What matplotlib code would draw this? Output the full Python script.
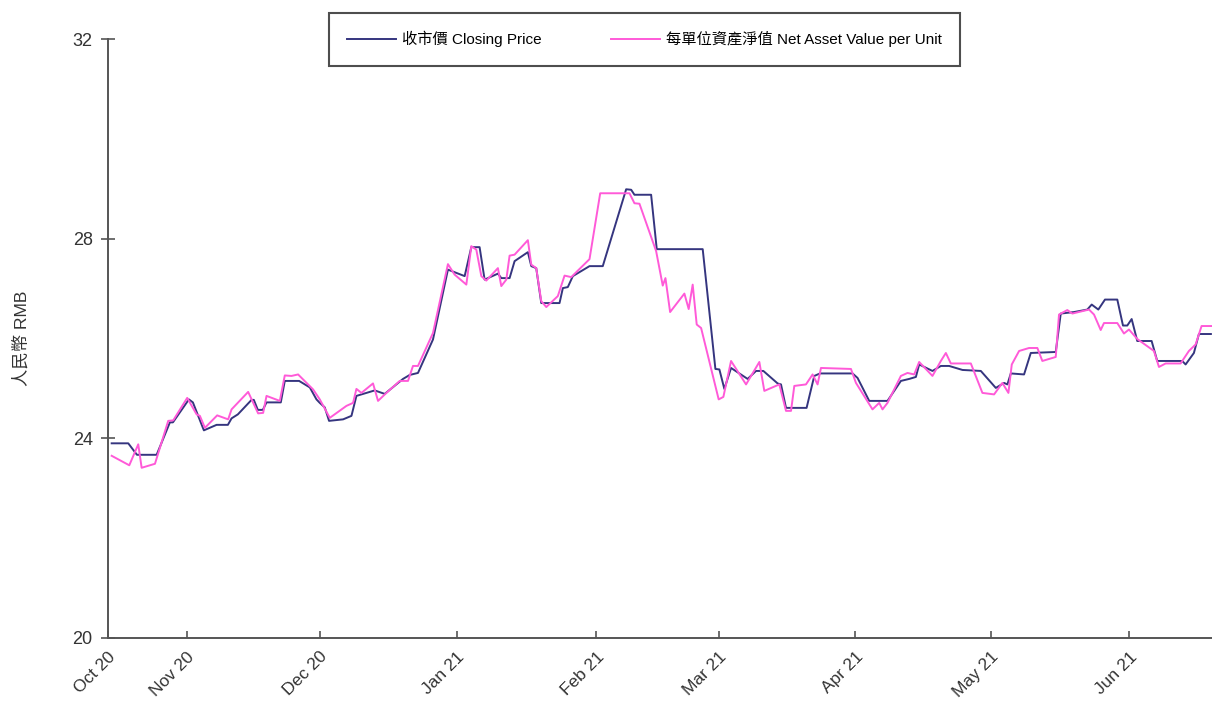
import matplotlib.pyplot as plt
import matplotlib.transforms as mtransforms

plt.rcParams['font.family'] = ['Liberation Sans', 'Noto Sans CJK TC', 'DejaVu Sans']

# Data (x = days from the first tick, Oct 20)
close_days = [0.83, 4.57, 6.53, 10.97, 13.96, 14.64, 18.24, 19.14, 21.62, 24.48, 27.03, 27.86, 29.28,
              32.36, 32.88, 33.78, 34.91, 35.74, 38.96, 39.86, 43.09, 45.50, 47.00, 47.75, 48.87, 49.84,
              53.00, 54.89, 56.01, 60.14, 62.39, 66.51, 68.02, 69.89, 73.27, 76.64, 80.41, 81.91, 83.78,
              84.91, 87.91, 88.67, 90.54, 91.67, 94.66, 95.43, 96.55, 97.68, 101.80, 102.55, 103.67,
              104.80, 108.56, 111.55, 116.82, 117.95, 118.69, 122.45, 123.72, 134.08, 136.94, 137.84,
              138.96, 140.47, 144.21, 146.10, 147.75, 150.97, 151.73, 152.86, 157.50, 159.23, 160.52,
              167.86, 168.99, 171.62, 175.74, 178.76, 180.63, 182.14, 182.88, 185.88, 187.77, 189.64,
              192.64, 196.78, 200.16, 202.03, 202.77, 203.54, 206.53, 208.04, 213.67, 214.80, 217.79,
              220.79, 221.78, 223.27, 224.77, 227.55, 228.83, 229.80, 230.79, 232.05, 235.29, 236.55,
              242.18, 242.95, 244.82, 245.95, 248.65]
close_price = [23.90, 23.90, 23.67, 23.67, 24.32, 24.32, 24.78, 24.72, 24.16, 24.27, 24.27, 24.40, 24.48,
               24.77, 24.77, 24.57, 24.57, 24.72, 24.72, 25.15, 25.15, 25.02, 24.78, 24.71, 24.62, 24.35,
               24.38, 24.45, 24.85, 24.96, 24.89, 25.19, 25.27, 25.31, 25.98, 27.38, 27.25, 27.83, 27.83,
               27.18, 27.30, 27.21, 27.21, 27.55, 27.73, 27.45, 27.41, 26.71, 26.71, 27.01, 27.03,
               27.25, 27.45, 27.45, 28.99, 28.98, 28.88, 28.88, 27.79, 27.79, 25.39, 25.38,
               24.99, 25.41, 25.19, 25.35, 25.35, 25.10, 25.08, 24.61, 24.61, 25.25, 25.30,
               25.30, 25.21, 24.75, 24.75, 25.15, 25.19, 25.23, 25.48, 25.35, 25.45, 25.45,
               25.37, 25.35, 25.01, 25.11, 25.08, 25.30, 25.28, 25.71, 25.73, 26.50, 26.53,
               26.58, 26.68, 26.58, 26.78, 26.78, 26.26, 26.26, 26.39, 25.95, 25.95, 25.55,
               25.55, 25.48, 25.71, 26.09, 26.09]

nav_days = [0.83, 4.80, 6.82, 7.59, 10.59, 13.58, 14.71, 17.86, 19.98, 20.72, 21.85, 24.62, 27.09, 27.86,
            31.60, 33.85, 34.98, 35.74, 38.74, 39.86, 41.37, 42.86, 46.24, 47.75, 50.00, 53.76, 55.25,
            56.01, 57.14, 59.75, 60.88, 62.77, 65.77, 67.64, 68.76, 69.89, 73.27, 76.64, 78.15, 80.79,
            81.91, 83.04, 84.17, 85.29, 87.91, 88.67, 89.80, 90.54, 91.67, 94.66, 95.43, 96.55, 97.68,
            98.81, 101.42, 102.93, 104.44, 108.56, 110.97, 117.57, 118.69, 119.82, 123.58, 125.07,
            125.68, 126.73, 129.95, 130.92, 131.82, 132.73, 133.72, 137.68, 138.74, 140.47, 143.85,
            146.85, 147.97, 151.35, 152.86, 153.99, 154.73, 157.36, 158.85, 159.98, 160.74, 167.50,
            168.63, 172.36, 173.87, 174.62, 175.74, 178.76, 180.25, 181.76, 182.88, 185.88, 187.77,
            188.90, 190.02, 194.53, 197.14, 199.77, 201.64, 203.00, 203.76, 205.41, 207.66, 209.53,
            210.65, 213.67, 214.41, 216.28, 217.41, 221.17, 222.30, 223.81, 224.55, 227.55, 229.05,
            230.18, 232.05, 235.81, 236.94, 238.45, 241.82, 243.69, 245.20, 246.55, 248.87]
nav_value = [23.65, 23.46, 23.88, 23.41, 23.49, 24.35, 24.36, 24.81, 24.48, 24.45, 24.21, 24.46, 24.38, 24.58,
             24.93, 24.50, 24.51, 24.85, 24.75, 25.26, 25.25, 25.28, 24.98, 24.78, 24.41, 24.65, 24.71,
             24.99, 24.91, 25.10, 24.75, 24.91, 25.15, 25.15, 25.45, 25.45, 26.11, 27.49, 27.28, 27.08,
             27.85, 27.78, 27.25, 27.16, 27.41, 27.05, 27.18, 27.66, 27.68, 27.97, 27.48, 27.41, 26.75,
             26.63, 26.85, 27.26, 27.23, 27.59, 28.91, 28.91, 28.71, 28.70, 27.75, 27.06,
             27.21, 26.53, 26.90, 26.59, 27.08, 26.28, 26.21, 24.78, 24.83, 25.55, 25.08,
             25.53, 24.95, 25.08, 24.55, 24.55, 25.05, 25.08, 25.28, 25.08, 25.41, 25.39,
             25.11, 24.58, 24.71, 24.58, 24.71, 25.25, 25.31, 25.28, 25.53, 25.25, 25.55,
             25.71, 25.50, 25.50, 24.91, 24.88, 25.11, 24.91, 25.48, 25.75, 25.81, 25.81,
             25.55, 25.63, 26.48, 26.57, 26.50, 26.58, 26.48, 26.17, 26.31, 26.31, 26.10,
             26.18, 25.99, 25.75, 25.43, 25.50, 25.50, 25.75, 25.88, 26.25, 26.25]

tick_days = [0, 17.8, 47.7, 78.6, 110.1, 137.8, 168.5, 199.1, 230.2]
tick_labels = ['Oct 20', 'Nov 20', 'Dec 20', 'Jan 21', 'Feb 21', 'Mar 21', 'Apr 21', 'May 21', 'Jun 21']
y_ticks = [20, 24, 28, 32]

fig = plt.figure(figsize=(12.12, 7.02), dpi=100)
ax = fig.add_axes([0.0891, 0.0912, 0.9109, 0.8532])

ax.plot(close_days, close_price, color='#35357f', lw=1.4, label='收市價 Closing Price')
ax.plot(nav_days, nav_value, color='#ff5ad8', lw=1.4, label='每單位資產淨值 Net Asset Value per Unit')

ax.set_xlim(0, 248.9)
ax.set_ylim(20, 32)
ax.set_yticks(y_ticks)
ax.set_xticks(tick_days)
ax.set_xticklabels(tick_labels, rotation=45, ha='right', rotation_mode='anchor')

# nudge the rotated month labels a little left/down like the original
offset = mtransforms.ScaledTranslation(-10 / 100, -4 / 100, fig.dpi_scale_trans)
for lbl in ax.get_xticklabels():
    lbl.set_transform(lbl.get_transform() + offset)

for side in ['top', 'right']:
    ax.spines[side].set_visible(False)
for side in ['left', 'bottom']:
    ax.spines[side].set_color('#555555')
    ax.spines[side].set_linewidth(1.4)

ax.tick_params(axis='y', direction='inout', length=10, width=1.2, color='#555555',
               labelsize=13, labelcolor='#333333', pad=6)
ax.tick_params(axis='x', direction='in', length=5, width=1.2, color='#555555',
               labelsize=12.5, labelcolor='#333333', pad=8)

ax.set_ylabel('人民幣 RMB', fontsize=12.5, color='#333333')
ax.yaxis.set_label_coords(-0.071, 0.5)

leg = ax.legend(loc='center', bbox_to_anchor=(0.486, 1.0), ncol=2, fontsize=11,
                frameon=True, fancybox=False, handlelength=3.2, columnspacing=4.5,
                borderpad=1.2, handletextpad=0.4, borderaxespad=0)
leg.get_frame().set_edgecolor('#222222')
leg.get_frame().set_linewidth(1.5)

plt.savefig('out.png', dpi=100)
